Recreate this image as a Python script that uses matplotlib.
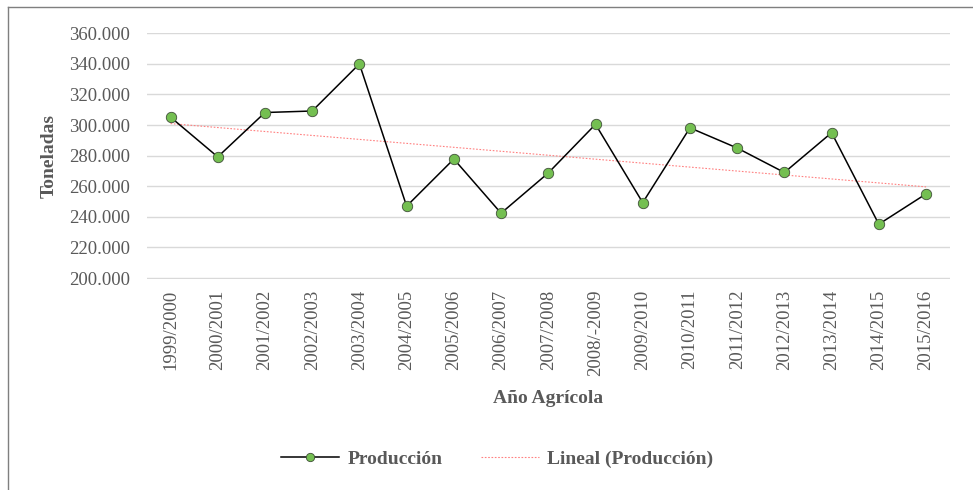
import matplotlib.pyplot as plt
import numpy as np
from matplotlib.lines import Line2D

plt.rcParams['font.family'] = ['Liberation Serif', 'DejaVu Serif']

# Producción agrícola por campaña (miles de toneladas)
campanas = ['1999/2000', '2000/2001', '2001/2002', '2002/2003', '2003/2004',
            '2004/2005', '2005/2006', '2006/2007', '2007/2008', '2008/-2009',
            '2009/2010', '2010/2011', '2011/2012', '2012/2013', '2013/2014',
            '2014/2015', '2015/2016']
produccion = [305.2, 279.2, 308.2, 309.2, 340.0, 247.0, 277.8, 242.4, 268.7,
              300.5, 249.3, 298.2, 285.0, 269.0, 295.0, 235.2, 255.0]
y_ticks = [200, 220, 240, 260, 280, 300, 320, 340, 360]

gris = '#595959'

fig = plt.figure(figsize=(9.73, 4.9), dpi=100)
ax = fig.add_axes([0.151, 0.431, 0.825, 0.502])

x = np.arange(len(campanas))
ax.plot(x, produccion, color='black', lw=1.1, marker='o', ms=7.5,
        mfc='#74BF51', mec='#3f4f38', mew=0.6, label='Producción', zorder=3)

# tendencia lineal
m, b = np.polyfit(x, produccion, 1)
ax.plot(x, m * x + b, color='#FF8080', lw=0.8, ls=(0, (1.5, 1.5)),
        label='Lineal (Producción)', zorder=2)

ax.set_xlim(-0.5, len(campanas) - 0.5)
ax.set_ylim(199.5, 360.3)
ax.set_yticks(y_ticks)
ax.set_yticklabels([f'{v}.000' for v in y_ticks])
ax.set_xticks(x)
ax.set_xticklabels(campanas, rotation=90)
ax.tick_params(axis='both', length=0, labelsize=13.5, labelcolor=gris)
ax.tick_params(axis='x', pad=8)
ax.tick_params(axis='y', pad=12)
ax.grid(axis='y', color='#d9d9d9', lw=1)
ax.set_axisbelow(True)
for s in ax.spines.values():
    s.set_visible(False)

ax.set_ylabel('Toneladas', fontsize=14, fontweight='bold', color=gris, labelpad=8)
ax.set_xlabel('Año Agrícola', fontsize=14, fontweight='bold', color=gris, labelpad=10)

fig.legend(loc='center', bbox_to_anchor=(0.511, 0.063), ncol=2, frameon=False,
           prop={'size': 14, 'weight': 'bold'}, labelcolor=gris, markerscale=0.8,
           handlelength=3.0, handletextpad=0.4, columnspacing=2.0)

# marco del gráfico
fig.add_artist(Line2D([8 / 973, 8 / 973], [0, 1 - 7 / 490], color='#7f7f7f', lw=1))
fig.add_artist(Line2D([8 / 973, 1], [1 - 7 / 490, 1 - 7 / 490], color='#7f7f7f', lw=1))

fig.savefig('out.png', dpi=100)
